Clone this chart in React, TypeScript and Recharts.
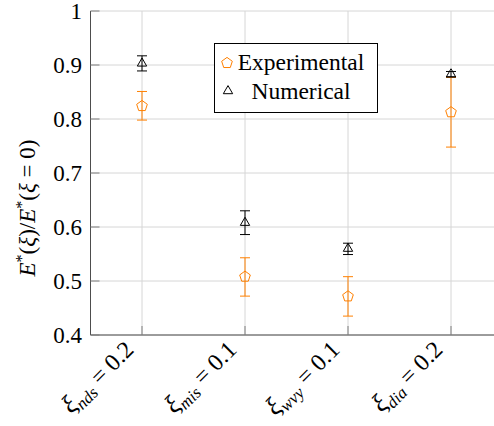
import React from "react";
import { ComposedChart, Scatter, XAxis, YAxis, CartesianGrid, ErrorBar, Legend } from "recharts";

const categories = [1, 2, 3, 4];
const xSubscripts = ["nds", "mis", "wvy", "dia"];
const xValues = ["0.2", "0.1", "0.1", "0.2"];

const expMean = [0.824, 0.508, 0.4715, 0.8125];
const expLow = [0.798, 0.472, 0.435, 0.748];
const expHigh = [0.851, 0.543, 0.508, 0.877];

const numMean = [0.903, 0.608, 0.56, 0.883];
const numLow = [0.889, 0.586, 0.549, 0.878];
const numHigh = [0.917, 0.63, 0.570, 0.888];

const yTicks = [0.4, 0.5, 0.6, 0.7, 0.8, 0.9, 1];
const yTickLabels = ["0.4", "0.5", "0.6", "0.7", "0.8", "0.9", "1"];

const ORANGE = "#ff8000";
const FONT = "Liberation Serif";
const GRID = "#d6d6d6";
const AXIS = "#4d4d4d";
const TICK = "#7f7f7f";

const expData = categories.map((c, i) => ({
  x: c,
  y: expMean[i],
  err: [expMean[i] - expLow[i], expHigh[i] - expMean[i]],
}));
const numData = categories.map((c, i) => ({
  x: c,
  y: numMean[i],
  err: [numMean[i] - numLow[i], numHigh[i] - numMean[i]],
}));

const pentagonPoints = (cx: number, cy: number, r: number) =>
  Array.from({ length: 5 }, (_, k) => {
    const a = ((-90 + 72 * k) * Math.PI) / 180;
    return `${cx + r * Math.cos(a)},${cy + r * Math.sin(a)}`;
  }).join(" ");

const trianglePoints = (cx: number, cy: number, r: number) =>
  [-90, 30, 150]
    .map((d) => {
      const a = (d * Math.PI) / 180;
      return `${cx + r * Math.cos(a)},${cy + r * Math.sin(a)}`;
    })
    .join(" ");

const Pentagon = (props: any) => (
  <polygon points={pentagonPoints(props.cx, props.cy, 5.6)} fill="none" stroke={ORANGE} strokeWidth={1} />
);
const Triangle = (props: any) => (
  <polygon points={trianglePoints(props.cx, props.cy, 5.4)} fill="none" stroke="#000" strokeWidth={1} />
);

const textStyle: React.CSSProperties = { fontFamily: FONT, fontSize: 23 };

const XTick = (props: any) => {
  const { x, y, payload } = props;
  const i = categories.indexOf(payload.value);
  return (
    <g>
      <line x1={x} y1={y} x2={x} y2={y - 9} stroke={TICK} strokeWidth={1} />
      <text
        transform={`translate(${x - 7},${y + 16}) rotate(-45)`}
        textAnchor="end"
        style={{ fontFamily: FONT, fontSize: 24 }}
        fill="#000"
      >
        <tspan fontStyle="italic" style={{ fontFamily: FONT, fontSize: 26 }}>ξ</tspan>
        <tspan fontStyle="italic" style={{ fontFamily: FONT, fontSize: 17 }} dy={5}>
          {xSubscripts[i]}
        </tspan>
        <tspan dy={-5}>{" = " + xValues[i]}</tspan>
      </text>
    </g>
  );
};

const TopTick = (props: any) => {
  const { x, y } = props;
  return <line x1={x} y1={y} x2={x} y2={y + 9} stroke={TICK} strokeWidth={1} />;
};

const YTick = (props: any) => {
  const { x, y, payload } = props;
  const i = yTicks.indexOf(payload.value);
  return (
    <g>
      <line x1={x} y1={y} x2={x + 9} y2={y} stroke={TICK} strokeWidth={1} />
      <text x={x - 8.5} y={y} dy="0.34em" textAnchor="end" style={textStyle} fill="#000">
        {yTickLabels[i]}
      </text>
    </g>
  );
};

const YLabel = (props: any) => {
  const vb = props.viewBox || {};
  const cx = 27;
  const cy = (vb.y ?? 11) + (vb.height ?? 324) / 2 + 35;
  return (
    <text
      transform={`translate(${cx},${cy}) rotate(-90)`}
      textAnchor="middle"
      dy="0.35em"
      style={textStyle}
      fill="#000"
    >
      <tspan fontStyle="italic">E</tspan>
      <tspan style={{ fontFamily: FONT, fontSize: 16 }} dy={-8}>*</tspan>
      <tspan dy={8}>(</tspan>
      <tspan fontStyle="italic">ξ</tspan>
      <tspan>)/</tspan>
      <tspan fontStyle="italic">E</tspan>
      <tspan style={{ fontFamily: FONT, fontSize: 16 }} dy={-8}>*</tspan>
      <tspan dy={8}>(</tspan>
      <tspan fontStyle="italic">ξ</tspan>
      <tspan>{" = 0)"}</tspan>
    </text>
  );
};

const LegendBox = () => (
  <svg width={164} height={70} style={{ display: "block" }}>
    <rect x={0.5} y={0.5} width={163} height={69} fill="#fff" stroke="#000" strokeWidth={1} />
    <polygon points={pentagonPoints(13, 20, 5.6)} fill="none" stroke={ORANGE} strokeWidth={1} />
    <text x={87} y={27} textAnchor="middle" style={{ fontFamily: FONT, fontSize: 23.5 }} fill="#000">
      Experimental
    </text>
    <polygon points={trianglePoints(14, 48, 5.4)} fill="none" stroke="#000" strokeWidth={1} />
    <text x={87} y={56} textAnchor="middle" style={{ fontFamily: FONT, fontSize: 23.5 }} fill="#000">
      Numerical
    </text>
  </svg>
);

export default function App() {
  return (
    <div
      style={{
        position: "fixed",
        left: 0,
        top: 0,
        width: 494,
        height: 426,
        overflow: "hidden",
        background: "#fff",
        fontFamily: FONT,
      }}
    >
      <ComposedChart width={510} height={426} margin={{ top: 11, right: 7.5, bottom: 0, left: 0 }}>
        <CartesianGrid stroke={GRID} strokeWidth={1} />
        <XAxis
          dataKey="x"
          type="number"
          domain={[0.5, 4.5]}
          ticks={categories}
          height={91}
          tickSize={0}
          tickMargin={0}
          tickLine={false}
          tick={<XTick />}
          axisLine={{ stroke: AXIS, strokeWidth: 1 }}
          interval={0}
        />
        <XAxis
          xAxisId="top"
          orientation="top"
          dataKey="x"
          type="number"
          domain={[0.5, 4.5]}
          ticks={categories}
          height={0}
          tickSize={0}
          tickMargin={0}
          tickLine={false}
          tick={<TopTick />}
          axisLine={{ stroke: AXIS, strokeWidth: 1 }}
          interval={0}
        />
        <YAxis
          dataKey="y"
          type="number"
          domain={[0.4, 1]}
          ticks={yTicks}
          width={90.5}
          tickSize={0}
          tickMargin={0}
          tickLine={false}
          tick={<YTick />}
          axisLine={{ stroke: AXIS, strokeWidth: 1 }}
          interval={0}
          label={{ content: <YLabel /> }}
        />
        <Legend
          layout="horizontal"
          verticalAlign="middle"
          align="center"
          content={<LegendBox />}
          wrapperStyle={{ position: "absolute", left: 214, top: 43, width: 164, height: 70 }}
        />
        <Scatter name="Experimental" data={expData} shape={<Pentagon />} isAnimationActive={false}>
          <ErrorBar dataKey="err" direction="y" width={5} stroke={ORANGE} strokeWidth={1} />
        </Scatter>
        <Scatter name="Numerical" data={numData} shape={<Triangle />} isAnimationActive={false}>
          <ErrorBar dataKey="err" direction="y" width={5} stroke="#000" strokeWidth={1} />
        </Scatter>
      </ComposedChart>
    </div>
  );
}
